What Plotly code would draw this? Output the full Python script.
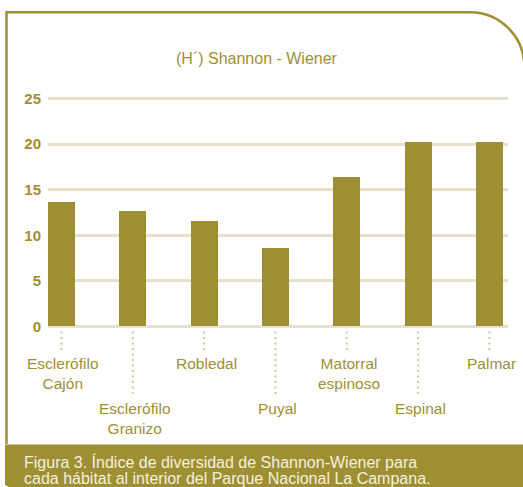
import plotly.graph_objects as go

# ---- data ----
habitats = ["Esclerófilo<br>Cajón", "Esclerófilo<br>Granizo", "Robledal", "Puyal",
            "Matorral<br>espinoso", "Espinal", "Palmar"]
shannon = [13.7, 12.7, 11.6, 8.6, 16.4, 20.2, 20.2]
y_ticks = [0, 5, 10, 15, 20, 25]
title_text = "(H´) Shannon - Wiener"
caption_lines = ["Figura 3. Índice de diversidad de Shannon-Wiener para",
                 "cada hábitat al interior del Parque Nacional La Campana."]

OLIVE = "#9f8f34"
GRID = "#e7e1cb"
DOT = "#cfc79c"
FONT = "Liberation Sans, Arial, sans-serif"

W, H = 523, 487
PL, PR = 48, 508          # plot area in px
PT, PB = 94.46, 330.54

def px(x):
    return (x - PL) / (PR - PL)

def py(y):
    return (PB - y) / (PB - PT)

xs = list(range(len(habitats)))

fig = go.Figure(go.Bar(x=xs, y=shannon, width=0.379, marker=dict(color=OLIVE, line=dict(width=0))))

shapes = []
# frame (left line, top line, rounded top-right corner)
R = 54.4
shapes.append(dict(
    type="path", xref="paper", yref="paper",
    path=(f"M {px(6.5)},{py(450)} L {px(6.5)},{py(13)} L {px(470)},{py(13)} "
          f"C {px(470+0.5523*R)},{py(13)} {px(470+R)},{py(13+R-0.5523*R)} {px(470+R)},{py(13+R)} "
          f"L {px(470+R)},{py(450)}"),
    line=dict(color=OLIVE, width=2.5), layer="above"))
# footer band with rounded bottom-left
r2 = 16
shapes.append(dict(
    type="path", xref="paper", yref="paper",
    path=(f"M {px(5)},{py(443)} L {px(530)},{py(443)} L {px(530)},{py(495)} L {px(5)},{py(495)} Z"),
    fillcolor=OLIVE, line=dict(width=0), layer="above"))
shapes.append(dict(
    type="path", xref="paper", yref="paper",
    path=(f"M {px(0)},{py(487-r2)} Q {px(0)},{py(487)} {px(r2)},{py(487)} "
          f"L {px(0)},{py(487)} Z"),
    fillcolor="white", line=dict(width=0), layer="above"))
shapes.append(dict(type="line", xref="paper", yref="paper",
                   x0=px(5), x1=px(530), y0=py(443.5), y1=py(443.5),
                   line=dict(color="#d8d0a8", width=1), layer="above"))

annotations = []
# category labels with dotted leader lines
for i, lab in enumerate(habitats):
    high = (i % 2 == 0)
    y_end = 352 if high else 393
    shapes.append(dict(type="line", xref="x", yref="paper", x0=i, x1=i,
                       y0=py(331), y1=py(y_end),
                       line=dict(color=DOT, width=2, dash="2px,3.5px")))
    top_y = 352 if high else 397
    annotations.append(dict(
        x=i, y=py(top_y), xref="x", yref="paper", xanchor="center", yanchor="top",
        text=lab, showarrow=False, xshift=2,
        font=dict(family=FONT, size=15.5, color=OLIVE), align="center"))

annotations.append(dict(x=px(257), y=py(59), xref="paper", yref="paper",
                        xanchor="center", yanchor="middle", text=title_text, showarrow=False,
                        font=dict(family=FONT, size=16, color=OLIVE)))
for k, line in enumerate(caption_lines):
    annotations.append(dict(x=px(22), y=py(461 + 16 * k), xref="paper", yref="paper",
                            xanchor="left", yanchor="middle", text=line, showarrow=False,
                            font=dict(family=FONT, size=16, color="#f4f0de")))

fig.update_layout(
    width=W, height=H,
    margin=dict(l=PL, r=W - PR, t=PT, b=H - PB, pad=0),
    paper_bgcolor="white", plot_bgcolor="white",
    showlegend=False,
    shapes=shapes, annotations=annotations,
    xaxis=dict(range=[-0.189, 6.26], showticklabels=False, showgrid=False,
               zeroline=False, showline=False, ticks=""),
    yaxis=dict(range=[-0.5, 25.5], tickvals=y_ticks, ticktext=[str(v) for v in y_ticks],
               showgrid=True, gridcolor=GRID, gridwidth=3, zeroline=False, showline=False,
               ticks="", ticklabelstandoff=6,
               tickfont=dict(family=FONT, size=15, color=OLIVE, weight="bold")),
    bargap=0,
)

fig.write_html("out.html", config={"displayModeBar": False},
               post_script="document.body.style.margin='0';document.body.style.overflow='hidden';")
